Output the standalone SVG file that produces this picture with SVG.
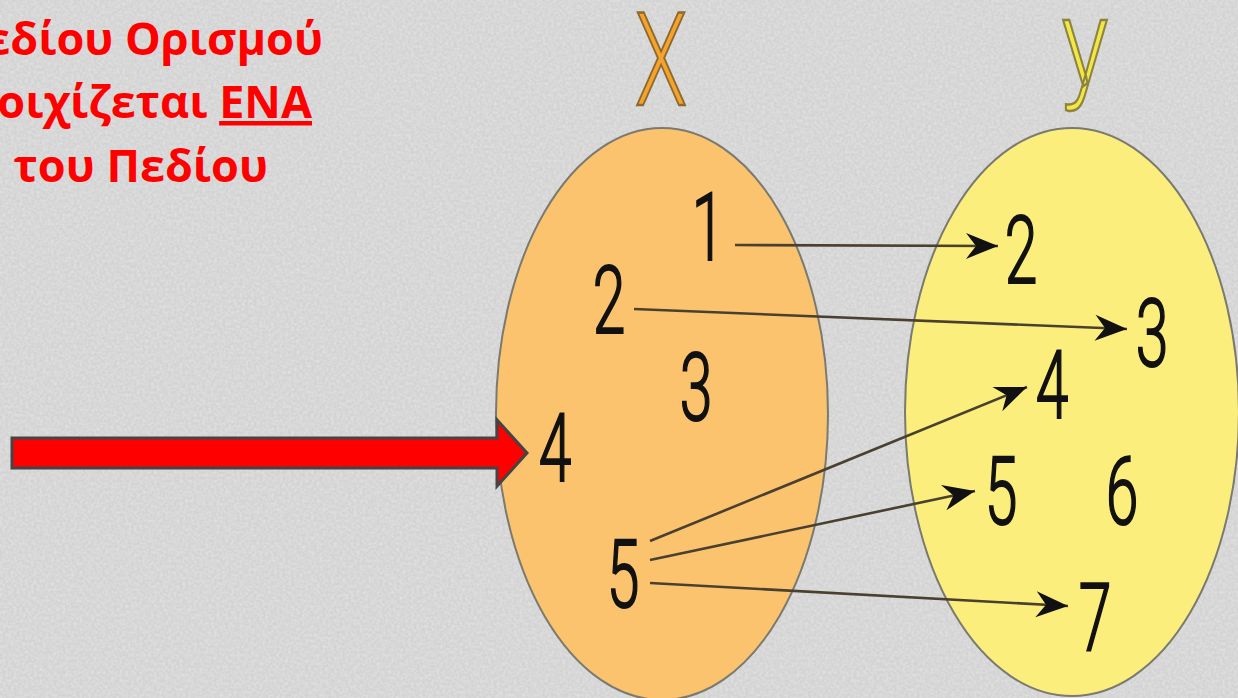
<svg xmlns="http://www.w3.org/2000/svg" width="1238" height="698" viewBox="0 0 1238 698">
<defs>
<filter id="tex" x="0" y="0" width="100%" height="100%">
<feTurbulence type="fractalNoise" baseFrequency="0.35" numOctaves="2" seed="3" result="n"/>
<feColorMatrix in="n" type="matrix" values="0 0 0 0 1  0 0 0 0 1  0 0 0 0 1  0 0 0 -1.6 1.1"/>
</filter>
<marker id="ah" markerUnits="userSpaceOnUse" markerWidth="36" markerHeight="32" viewBox="-34 -15 36 30" refX="0" refY="0" orient="auto">
<path d="M0,0 L-32,-13 L-22,0 L-32,13 Z" fill="#111"/>
</marker>
<style>
.red{font-family:"Open Sans","Noto Sans","Liberation Sans",sans-serif;font-weight:bold;font-size:45px;fill:#ff0000}
.dig{font-family:Roboto,"Liberation Sans",sans-serif;font-weight:300;font-size:95px;fill:#111;stroke:#111;stroke-width:2;text-anchor:middle}
.conn line{stroke:#4a4030;stroke-width:2.6;fill:none;marker-end:url(#ah)}
.ell{stroke:#7a7a70;stroke-width:2}
.lbl{font-family:Roboto,"Liberation Sans",sans-serif;font-weight:300;text-anchor:middle;stroke-width:2.5}
</style>
</defs>
<rect width="1238" height="698" fill="#d3d3d3"/>
<rect width="1238" height="698" fill="#ffffff" opacity="0.35" filter="url(#tex)"/>

<g id="title-text">
<text class="red" x="323" y="55" text-anchor="end">εδίου Ορισμού</text>
<text class="red" x="312" y="118" text-anchor="end">οιχίζεται <tspan text-decoration="underline">ΕΝΑ</tspan></text>
<text class="red" x="268" y="182" text-anchor="end">του Πεδίου</text>
</g>

<g id="set-X">
<ellipse class="ell" cx="662" cy="414" rx="166" ry="286" fill="#fcc36f"/>
<text class="lbl" transform="translate(661,105) scale(0.66,1)" font-size="130" fill="#f6a32c" stroke="#8c6a30">X</text>
</g>
<g id="set-Y">
<ellipse class="ell" cx="1072" cy="412" rx="167" ry="284" fill="#fcee7c"/>
<text class="lbl" transform="translate(1085,85) scale(0.8,1)" font-size="123" fill="#f3e745" stroke="#8c8440">y</text>
</g>

<g id="x1"><text class="dig" transform="translate(708,260) scale(0.62,1)">1</text></g>
<g id="x2"><text class="dig" transform="translate(609,333) scale(0.62,1)">2</text></g>
<g id="x3"><text class="dig" transform="translate(696,420) scale(0.62,1)">3</text></g>
<g id="x4"><text class="dig" transform="translate(555,481) scale(0.62,1)">4</text></g>
<g id="x5"><text class="dig" transform="translate(623,607) scale(0.62,1)">5</text></g>

<g id="y2"><text class="dig" transform="translate(1021,283) scale(0.62,1)">2</text></g>
<g id="y3"><text class="dig" transform="translate(1152,366) scale(0.62,1)">3</text></g>
<g id="y4"><text class="dig" transform="translate(1052,418) scale(0.62,1)">4</text></g>
<g id="y5"><text class="dig" transform="translate(1001,524) scale(0.62,1)">5</text></g>
<g id="y6"><text class="dig" transform="translate(1122,524) scale(0.62,1)">6</text></g>
<g id="y7"><text class="dig" transform="translate(1095,651) scale(0.62,1)">7</text></g>

<g id="connectors" class="conn">
<line x1="735" y1="245" x2="998" y2="246"/>
<line x1="634" y1="309" x2="1127" y2="329"/>
<line x1="650" y1="541" x2="1027" y2="387"/>
<line x1="650" y1="560" x2="975" y2="491"/>
<line x1="650" y1="583" x2="1068" y2="606"/>
</g>

<g id="pointer">
<path d="M12,438 L497,438 L497,420 L527,453 L497,486 L497,468 L12,468 Z" fill="#ff0000" stroke="#444" stroke-width="3" stroke-linejoin="miter"/>
</g>
</svg>
